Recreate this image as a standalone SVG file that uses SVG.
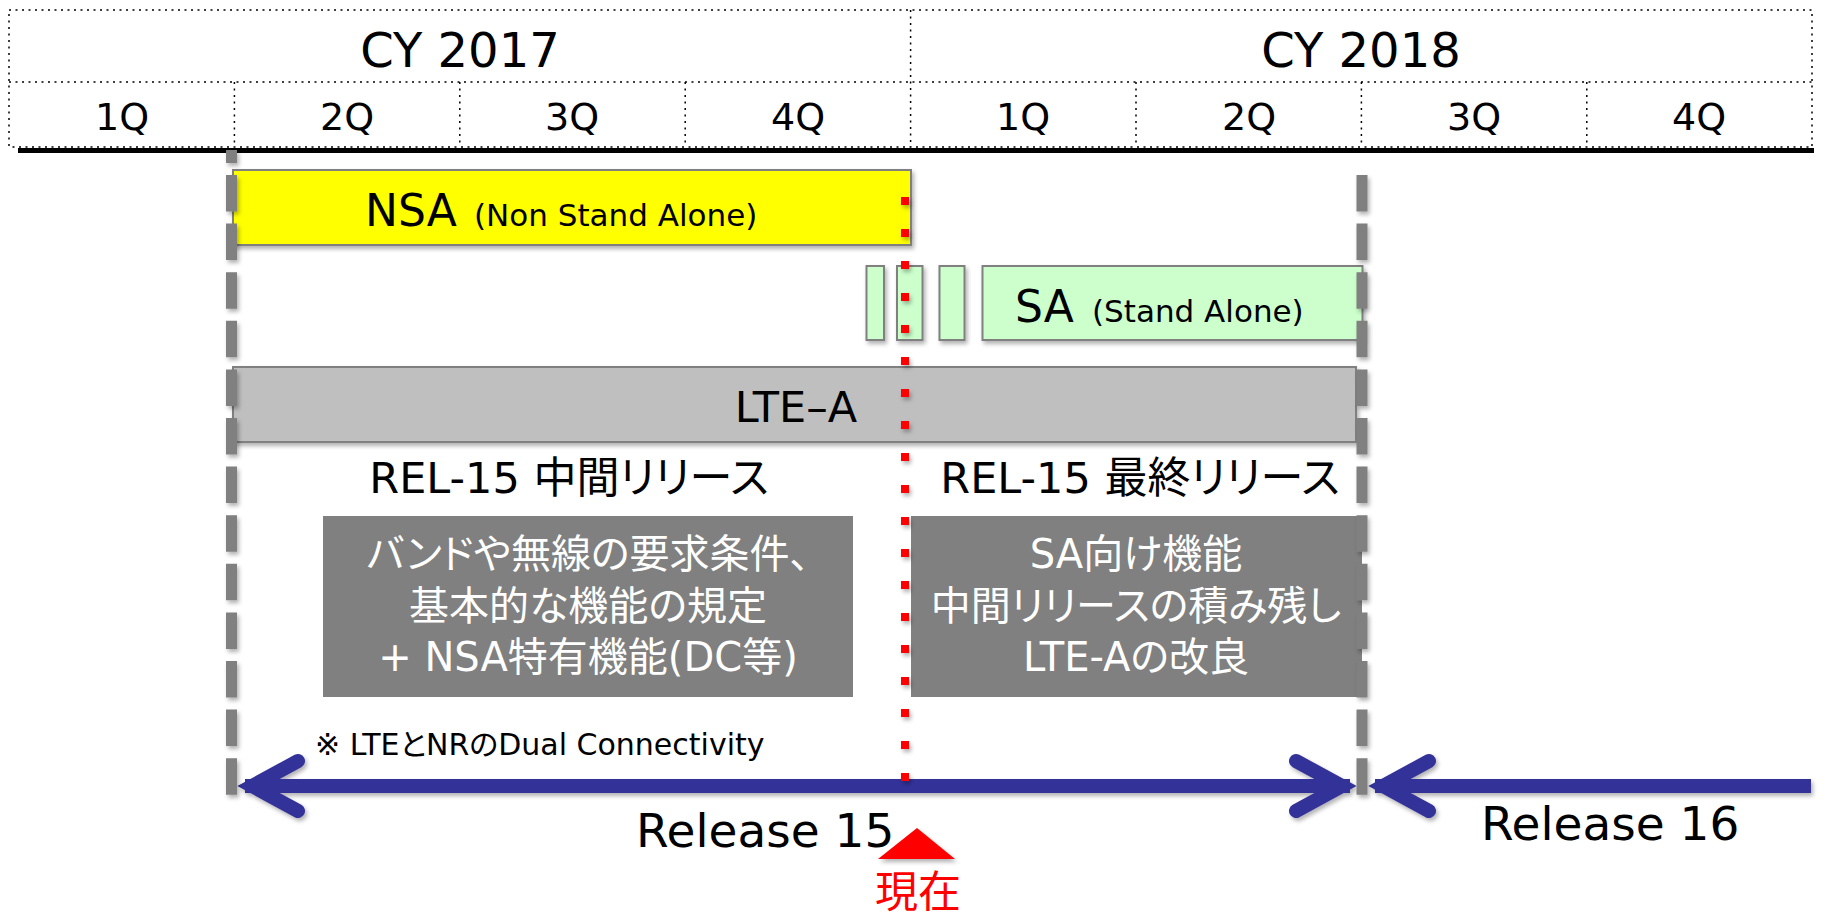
<svg xmlns="http://www.w3.org/2000/svg" width="1825" height="915" viewBox="0 0 1825 915">
<defs>
<style>
.t{font-family:"DejaVu Sans","Noto Sans CJK JP",sans-serif;font-feature-settings:"palt";fill:#000}
.w{fill:#fff}
.dot{stroke:#000;stroke-width:1.5;stroke-dasharray:2 4.5;fill:none}
.gd{stroke:#808080;stroke-width:11;stroke-dasharray:36.5 12.1;fill:none}
.box{stroke:#808080;stroke-width:2}
.arr{stroke:#333399;stroke-width:14;fill:none}
.chev{stroke:#333399;stroke-width:14;fill:none;stroke-linecap:round;stroke-linejoin:miter;stroke-miterlimit:10}
</style>
<filter id="sh" filterUnits="userSpaceOnUse" x="0" y="0" width="1825" height="915">
<feDropShadow dx="2" dy="3" stdDeviation="2" flood-color="#000" flood-opacity="0.3"/>
</filter>
</defs>
<rect width="1825" height="915" fill="#fff"/>

<g id="header">
<rect class="dot" x="9" y="10" width="1803" height="137"/>
<line class="dot" x1="9" y1="82" x2="1812" y2="82"/>
<line class="dot" x1="910.6" y1="10" x2="910.6" y2="147"/>
<line class="dot" x1="234.4" y1="82" x2="234.4" y2="147"/>
<line class="dot" x1="459.8" y1="82" x2="459.8" y2="147"/>
<line class="dot" x1="685.2" y1="82" x2="685.2" y2="147"/>
<line class="dot" x1="1136" y1="82" x2="1136" y2="147"/>
<line class="dot" x1="1361.4" y1="82" x2="1361.4" y2="147"/>
<line class="dot" x1="1586.8" y1="82" x2="1586.8" y2="147"/>
<text class="t" x="460" y="67" font-size="48" text-anchor="middle">CY 2017</text>
<text class="t" x="1361" y="67" font-size="48" text-anchor="middle">CY 2018</text>
<g font-size="38" text-anchor="middle">
<text class="t" x="122" y="130">1Q</text>
<text class="t" x="347" y="130">2Q</text>
<text class="t" x="572" y="130">3Q</text>
<text class="t" x="798" y="130">4Q</text>
<text class="t" x="1023" y="130">1Q</text>
<text class="t" x="1249" y="130">2Q</text>
<text class="t" x="1474" y="130">3Q</text>
<text class="t" x="1699" y="130">4Q</text>
</g>
<rect x="18" y="148" width="1796" height="5" fill="#000"/>
</g>

<g id="nsa">
<rect class="box" x="233" y="170" width="678" height="75" fill="#ffff00" filter="url(#sh)"/>
<text class="t" x="365" y="226" font-size="44">NSA</text>
<text class="t" x="474" y="226" font-size="31">(Non Stand Alone)</text>
</g>

<g id="sa">
<rect class="box" x="866.5" y="266" width="17.5" height="74" fill="#ccffcc" filter="url(#sh)"/>
<rect class="box" x="897" y="266" width="25.5" height="74" fill="#ccffcc" filter="url(#sh)"/>
<rect class="box" x="939.5" y="266" width="25" height="74" fill="#ccffcc" filter="url(#sh)"/>
<rect class="box" x="982.5" y="266" width="380" height="74" fill="#ccffcc" filter="url(#sh)"/>
<text class="t" x="1015" y="322" font-size="44">SA</text>
<text class="t" x="1092" y="322" font-size="31">(Stand Alone)</text>
</g>

<g id="lte-a">
<rect class="box" x="233" y="367" width="1123" height="75" fill="#bfbfbf" filter="url(#sh)"/>
<text class="t" x="796" y="422" font-size="43" text-anchor="middle">LTE–A</text>
</g>

<g id="rel15-interim">
<text class="t" x="569" y="493" font-size="43" text-anchor="middle">REL-15 中間リリース</text>
<rect x="323" y="516" width="530" height="181" fill="#808080"/>
<g font-size="40" text-anchor="middle">
<text class="t w" x="588" y="568">バンドや無線の要求条件、</text>
<text class="t w" x="588" y="620">基本的な機能の規定</text>
<text class="t w" x="588" y="671">+ NSA特有機能(DC等)</text>
</g>
</g>

<g id="rel15-final">
<text class="t" x="1140" y="493" font-size="43" text-anchor="middle">REL-15 最終リリース</text>
<rect x="911" y="516" width="451" height="181" fill="#808080"/>
<g font-size="40" text-anchor="middle">
<text class="t w" x="1136" y="568">SA向け機能</text>
<text class="t w" x="1136" y="620">中間リリースの積み残し</text>
<text class="t w" x="1136" y="671">LTE-Aの改良</text>
</g>
</g>

<g id="note">
<text class="t" x="315" y="755" font-size="30">※ LTEとNRのDual Connectivity</text>
</g>

<g id="connectors">
<g filter="url(#sh)">
<line class="arr" x1="245" y1="786" x2="1350" y2="786"/>
<polyline class="chev" points="298,761 252,786 298,811"/>
<polyline class="chev" points="1296,761 1342,786 1296,811"/>
<line class="arr" x1="1375" y1="786" x2="1811" y2="786"/>
<polyline class="chev" points="1429,761 1383,786 1429,811"/>
</g>
<line class="gd" x1="231.5" y1="150" x2="231.5" y2="795.5" stroke-dashoffset="23.6" filter="url(#sh)"/>
<line class="gd" x1="1362" y1="175" x2="1362" y2="795.5" filter="url(#sh)"/>
<line x1="905" y1="197" x2="905" y2="781" stroke="#ff0000" stroke-width="8" stroke-dasharray="8 24" filter="url(#sh)"/>
</g>

<g id="labels">
<text class="t" x="636" y="847" font-size="47">Release 15</text>
<text class="t" x="1481" y="840" font-size="47">Release 16</text>
</g>

<g id="now">
<polygon points="917,828 878,859 955,859" fill="#ff0000" filter="url(#sh)"/>
<text class="t" x="918" y="907" font-size="43" text-anchor="middle" style="fill:#ff0000">現在</text>
</g>
</svg>
